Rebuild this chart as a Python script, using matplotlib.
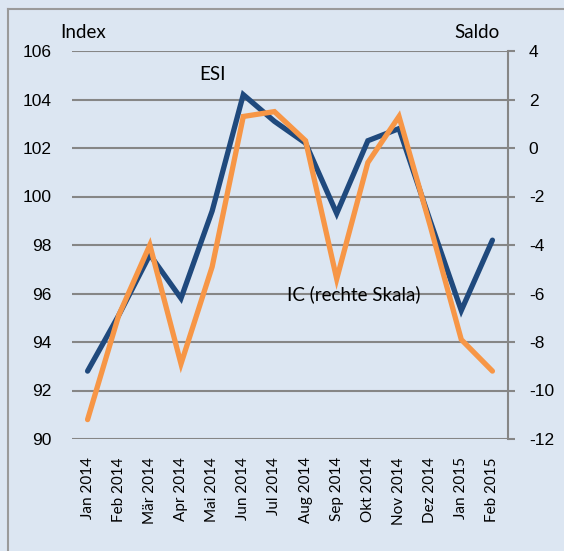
import numpy as np
import matplotlib.pyplot as plt
from matplotlib.lines import Line2D

# =========================================================
# data
# =========================================================
months = ["Jan 2014", "Feb 2014", "Mär 2014", "Apr 2014", "Mai 2014",
          "Jun 2014", "Jul 2014", "Aug 2014", "Sep 2014", "Okt 2014",
          "Nov 2014", "Dez 2014", "Jan 2015", "Feb 2015"]
esi = [92.8, 95.1, 97.6, 95.8, 99.4, 104.2, 103.1, 102.2,
       99.3, 102.3, 102.8, 99.0, 95.3, 98.2]
ic = [-11.2, -6.9, -4.0, -8.9, -4.9, 1.3, 1.5, 0.3,
      -5.4, -0.6, 1.3, -3.2, -7.9, -9.2]
left_ticks = [90, 92, 94, 96, 98, 100, 102, 104, 106]
right_ticks = [-12, -10, -8, -6, -4, -2, 0, 2, 4]

# =========================================================
# style
# =========================================================
bg = "#dce6f2"
grid_col = "#868686"
blue = "#1f497d"
orange = "#f79646"
txt_font = ["Lato", "DejaVu Sans"]
num_font = ["Liberation Sans", "DejaVu Sans"]

fig = plt.figure(figsize=(5.64, 5.51), dpi=100, facecolor=bg)
ax = fig.add_axes([72 / 564, 1 - 439 / 551, 436 / 564, 388 / 551])
ax.set_facecolor(bg)
ax2 = ax.twinx()

x = np.arange(len(months))
ax.set_xlim(-0.5, len(months) - 0.5)
ax.set_ylim(90, 106)
ax2.set_ylim(-12, 4)

# gridlines
for v in left_ticks:
    ax.axhline(v, color=grid_col, lw=1.5, zorder=1)

ax.plot(x, esi, color=blue, lw=3.8, solid_capstyle="round",
        solid_joinstyle="miter", zorder=3)
ax2.plot(x, ic, color=orange, lw=3.8, solid_capstyle="round",
         solid_joinstyle="miter", zorder=4)

for s in ["top", "left", "bottom"]:
    ax.spines[s].set_visible(False)
    ax2.spines[s].set_visible(False)
ax.spines["right"].set_visible(False)
ax2.spines["right"].set_color(grid_col)
ax2.spines["right"].set_linewidth(1.5)

ax.set_yticks(left_ticks)
ax.set_yticklabels([str(v) for v in left_ticks], fontfamily=num_font, fontsize=12.5)
ax.tick_params(axis="y", length=0, pad=15)

ax2.set_yticks(right_ticks)
ax2.set_yticklabels([str(v) for v in right_ticks], fontfamily=num_font, fontsize=12.5)
ax2.tick_params(axis="y", length=5, width=1.5, color=grid_col, pad=10)

ax.set_xticks(x)
ax.set_xticklabels(months, rotation=90, fontfamily=txt_font, fontsize=11)
ax.tick_params(axis="x", length=0, pad=13)

# axis titles and series labels
fig.text(60 / 564, 1 - 32 / 551, "Index", fontfamily=txt_font, fontsize=13.5,
         va="center", ha="left")
fig.text(500 / 564, 1 - 32 / 551, "Saldo", fontfamily=txt_font, fontsize=13.5,
         va="center", ha="right")
fig.text(199 / 564, 1 - 75 / 551, "ESI", fontfamily=txt_font, fontsize=13.5,
         va="center", ha="left")
fig.text(287 / 564, 1 - 294 / 551, "IC (rechte Skala)", fontfamily=txt_font,
         fontsize=13.5, va="center", ha="left")

# frame around the chart (open to the right and bottom)
fig.add_artist(Line2D([8 / 564, 8 / 564], [0, 1 - 9 / 551],
                      transform=fig.transFigure, color="#9a9a9a", lw=1.5))
fig.add_artist(Line2D([8 / 564, 1], [1 - 9 / 551, 1 - 9 / 551],
                      transform=fig.transFigure, color="#9a9a9a", lw=1.5))

fig.savefig("out.png", dpi=100, facecolor=bg)
